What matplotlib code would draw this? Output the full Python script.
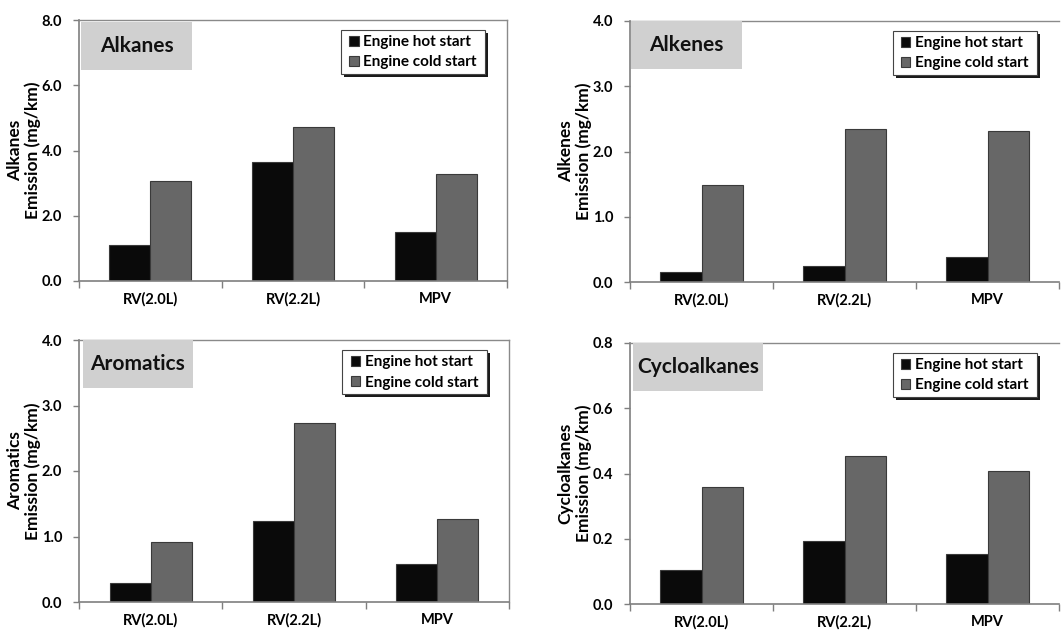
import matplotlib
matplotlib.use("Agg")
import matplotlib.pyplot as plt
from matplotlib.patches import Rectangle
import numpy as np

plt.rcParams['font.family'] = ['Lato', 'DejaVu Sans']
plt.rcParams['font.weight'] = 'bold'

categories = ["RV(2.0L)", "RV(2.2L)", "MPV"]
series_names = ["Engine hot start", "Engine cold start"]

alkanes_hot = [1.10, 3.66, 1.51]
alkanes_cold = [3.06, 4.72, 3.29]
alkenes_hot = [0.15, 0.25, 0.38]
alkenes_cold = [1.49, 2.35, 2.31]
aromatics_hot = [0.285, 1.23, 0.58]
aromatics_cold = [0.91, 2.73, 1.26]
cyclo_hot = [0.103, 0.192, 0.152]
cyclo_cold = [0.360, 0.454, 0.409]

panels = [
    dict(name="Alkanes", hot=alkanes_hot, cold=alkanes_cold, ymax=8.0, step=2.0,
         pos=[79, 20, 428, 261], box_w=0.26, box_x=0.005, box_top=0.992, show_right=True),
    dict(name="Alkenes", hot=alkenes_hot, cold=alkenes_cold, ymax=4.0, step=1.0,
         pos=[630, 21, 429, 261], box_w=0.259, box_x=0.002, box_top=1.0, show_right=False),
    dict(name="Aromatics", hot=aromatics_hot, cold=aromatics_cold, ymax=4.0, step=1.0,
         pos=[79, 340, 430, 262], box_w=0.256, box_x=0.009, box_top=1.0, show_right=True),
    dict(name="Cycloalkanes", hot=cyclo_hot, cold=cyclo_cold, ymax=0.8, step=0.2,
         pos=[630, 343, 429, 261], box_w=0.303, box_x=0.007, box_top=1.0, show_right=False),
]

W, H = 1061, 633
fig = plt.figure(figsize=(W / 100, H / 100), dpi=100)

hot_color = '#0a0a0a'
cold_color = '#676767'
spine_color = '#7f7f7f'
bw = 0.287

x = np.arange(len(categories))
for p in panels:
    l, t, w, h = p['pos']
    ax = fig.add_axes([l / W, (H - t - h) / H, w / W, h / H])
    b1 = ax.bar(x - bw / 2, p['hot'], width=bw, color=hot_color, edgecolor='#3a3a3a',
                linewidth=0.8, label=series_names[0], zorder=2)
    b2 = ax.bar(x + bw / 2, p['cold'], width=bw, color=cold_color, edgecolor='#3a3a3a',
                linewidth=0.8, label=series_names[1], zorder=2)
    ax.set_xlim(-0.5, 2.5)
    ax.set_ylim(0, p['ymax'])
    ticks = np.arange(0, p['ymax'] + p['step'] / 2, p['step'])
    ax.set_yticks(ticks)
    ax.set_yticklabels([f"{v:.1f}" for v in ticks])
    ax.set_xticks([-0.5, 0.5, 1.5, 2.5])
    ax.set_xticklabels([])
    ax.set_xticks(x, minor=True)
    ax.set_xticklabels(categories, minor=True)
    ax.tick_params(axis='x', which='major', direction='out', length=5, color=spine_color, width=1)
    ax.tick_params(axis='x', which='minor', length=0, pad=8, labelsize=10.5)
    ax.tick_params(axis='y', direction='out', length=4, color=spine_color, width=1, pad=8, labelsize=10.5)
    for s in ['left', 'bottom']:
        ax.spines[s].set_color(spine_color)
        ax.spines[s].set_linewidth(1.2)
    for s in ['top', 'right']:
        ax.spines[s].set_color('#8a8a8a')
        ax.spines[s].set_linewidth(1.0)
    if not p['show_right']:
        ax.spines['right'].set_visible(False)
    ax.set_ylabel(f"{p['name']}\nEmission (mg/km)", fontsize=12.5, fontweight='bold',
                  va='center', ha='center', linespacing=1.15)
    ax.yaxis.set_label_coords(-55 / w, 0.5)

    # title box
    bx, btop = p['box_x'], p['box_top']
    bh = 0.184
    ax.add_patch(Rectangle((bx, btop - bh), p['box_w'], bh, transform=ax.transAxes,
                           facecolor='#d0d0d0', edgecolor='none', zorder=3, clip_on=False))
    ax.text(bx + p['box_w'] / 2, btop - bh / 2, p['name'], transform=ax.transAxes,
            ha='center', va='center', fontsize=15, fontweight='bold', color='#111111', zorder=4)

    # legend frame with shadow
    lx0, lx1, ly0, ly1 = 0.612, 0.949, 0.792, 0.960
    ox, oy = 3 / w, -3 / h
    ax.add_patch(Rectangle((lx0 + ox, ly0 + oy), lx1 - lx0, ly1 - ly0, transform=ax.transAxes,
                           facecolor='#1a1a1a', edgecolor='none', zorder=4))
    ax.add_patch(Rectangle((lx0, ly0), lx1 - lx0, ly1 - ly0, transform=ax.transAxes,
                           facecolor='white', edgecolor='#444444', linewidth=0.8, zorder=5))
    leg = ax.legend(handles=[b1, b2], loc='center',
                    bbox_to_anchor=((lx0 + lx1) / 2, (ly0 + ly1) / 2),
                    frameon=False, fontsize=11, handlelength=0.6, handleheight=0.6,
                    handletextpad=0.3, labelspacing=0.4, borderpad=0, borderaxespad=0)
    leg.set_zorder(6)
    for txt in leg.get_texts():
        txt.set_fontweight('bold')

fig.savefig("out.png", dpi=100)
